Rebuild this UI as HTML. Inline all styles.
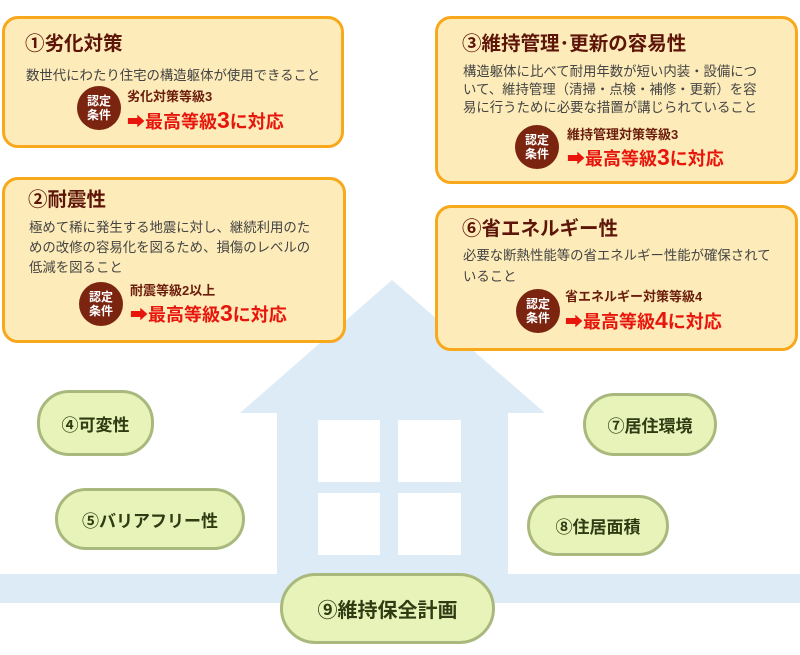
<!DOCTYPE html>
<html><head><meta charset="utf-8"><style>
*{margin:0;padding:0;box-sizing:border-box}
body{width:800px;height:655px;background:#fff;position:relative;overflow:hidden;font-family:"Liberation Sans","Noto Sans CJK JP",sans-serif}
.a{position:absolute;white-space:nowrap}
.box{position:absolute;background:#fdecb9;border:3px solid #f7a81b;border-radius:16px}
.t{position:absolute;font-size:19.5px;font-weight:bold;color:#5e1509;line-height:22px;white-space:nowrap}
.b{position:absolute;font-size:13.4px;color:#444;white-space:nowrap}
.badge{position:absolute;width:44px;height:44px;border-radius:50%;background:#7b2410;color:#fff;font-size:12px;font-weight:bold;line-height:14px;text-align:center;padding-top:8px}
.lab{position:absolute;font-size:13px;font-weight:bold;color:#6b1c0c;white-space:nowrap;line-height:14px}
.red{position:absolute;font-size:18px;font-weight:bold;color:#e8150c;white-space:nowrap;line-height:20px}
.red b{font-size:23px}
.bub{position:absolute;background:#e8f3b9;border:3px solid #a9b97e;border-radius:32px;display:flex;align-items:center;justify-content:center;font-weight:bold;color:#2f3b12;font-size:17px;white-space:nowrap}
</style></head><body>
<svg class="a" style="left:0;top:0" width="800" height="655">
<polygon points="240,413 392,280 545,413" fill="#dcebf5"/>
<rect x="277" y="410" width="231" height="166" fill="#dcebf5"/>
<rect x="0" y="574" width="800" height="29" fill="#dcebf5"/>
<rect x="318" y="420" width="62" height="62" fill="#fff"/>
<rect x="398" y="420" width="63" height="62" fill="#fff"/>
<rect x="318" y="493" width="62" height="62" fill="#fff"/>
<rect x="398" y="493" width="63" height="62" fill="#fff"/>
</svg>

<div class="box" style="left:2px;top:16px;width:342px;height:132px"></div>
<div class="t" style="left:25px;top:33px">①劣化対策</div>
<div class="b" style="left:26px;top:64px">数世代にわたり住宅の構造躯体が使用できること</div>
<div class="badge" style="left:77px;top:86px">認定<br>条件</div>
<div class="lab" style="left:127px;top:90px">劣化対策等級3</div>
<div class="red" style="left:127px;top:110px">➡最高等級<b>3</b>に対応</div>

<div class="box" style="left:2px;top:177px;width:344px;height:166px"></div>
<div class="t" style="left:28px;top:189px">②耐震性</div>
<div class="b" style="left:29px;top:218px;line-height:20px">極めて稀に発生する地震に対し、継続利用のた<br>めの改修の容易化を図るため、損傷のレベルの<br>低減を図ること</div>
<div class="badge" style="left:79px;top:282px">認定<br>条件</div>
<div class="lab" style="left:130px;top:284px">耐震等級2以上</div>
<div class="red" style="left:130px;top:303px">➡最高等級<b>3</b>に対応</div>

<div class="box" style="left:435px;top:16px;width:363px;height:168px"></div>
<div class="t" style="left:462px;top:33px">③維持管理･更新の容易性</div>
<div class="b" style="left:463px;top:63px;line-height:18px">構造躯体に比べて耐用年数が短い内装・設備につ<br>いて、維持管理（清掃・点検・補修・更新）を容<br>易に行うために必要な措置が講じられていること</div>
<div class="badge" style="left:515px;top:125px">認定<br>条件</div>
<div class="lab" style="left:567px;top:128px">維持管理対策等級3</div>
<div class="red" style="left:567px;top:147px">➡最高等級<b>3</b>に対応</div>

<div class="box" style="left:435px;top:205px;width:363px;height:146px"></div>
<div class="t" style="left:462px;top:218px">⑥省エネルギー性</div>
<div class="b" style="left:463px;top:245px;line-height:21px">必要な断熱性能等の省エネルギー性能が確保されて<br>いること</div>
<div class="badge" style="left:516px;top:289px">認定<br>条件</div>
<div class="lab" style="left:565px;top:290px">省エネルギー対策等級4</div>
<div class="red" style="left:565px;top:310px">➡最高等級<b>4</b>に対応</div>

<div class="bub" style="left:37px;top:390px;width:117px;height:66px">④可変性</div>
<div class="bub" style="left:55px;top:488px;width:190px;height:62px">⑤バリアフリー性</div>
<div class="bub" style="left:583px;top:393px;width:134px;height:63px">⑦居住環境</div>
<div class="bub" style="left:527px;top:495px;width:142px;height:61px">⑧住居面積</div>
<div class="bub" style="left:280px;top:573px;width:215px;height:71px;font-size:20px;border-radius:36px">⑨維持保全計画</div>
</body></html>
